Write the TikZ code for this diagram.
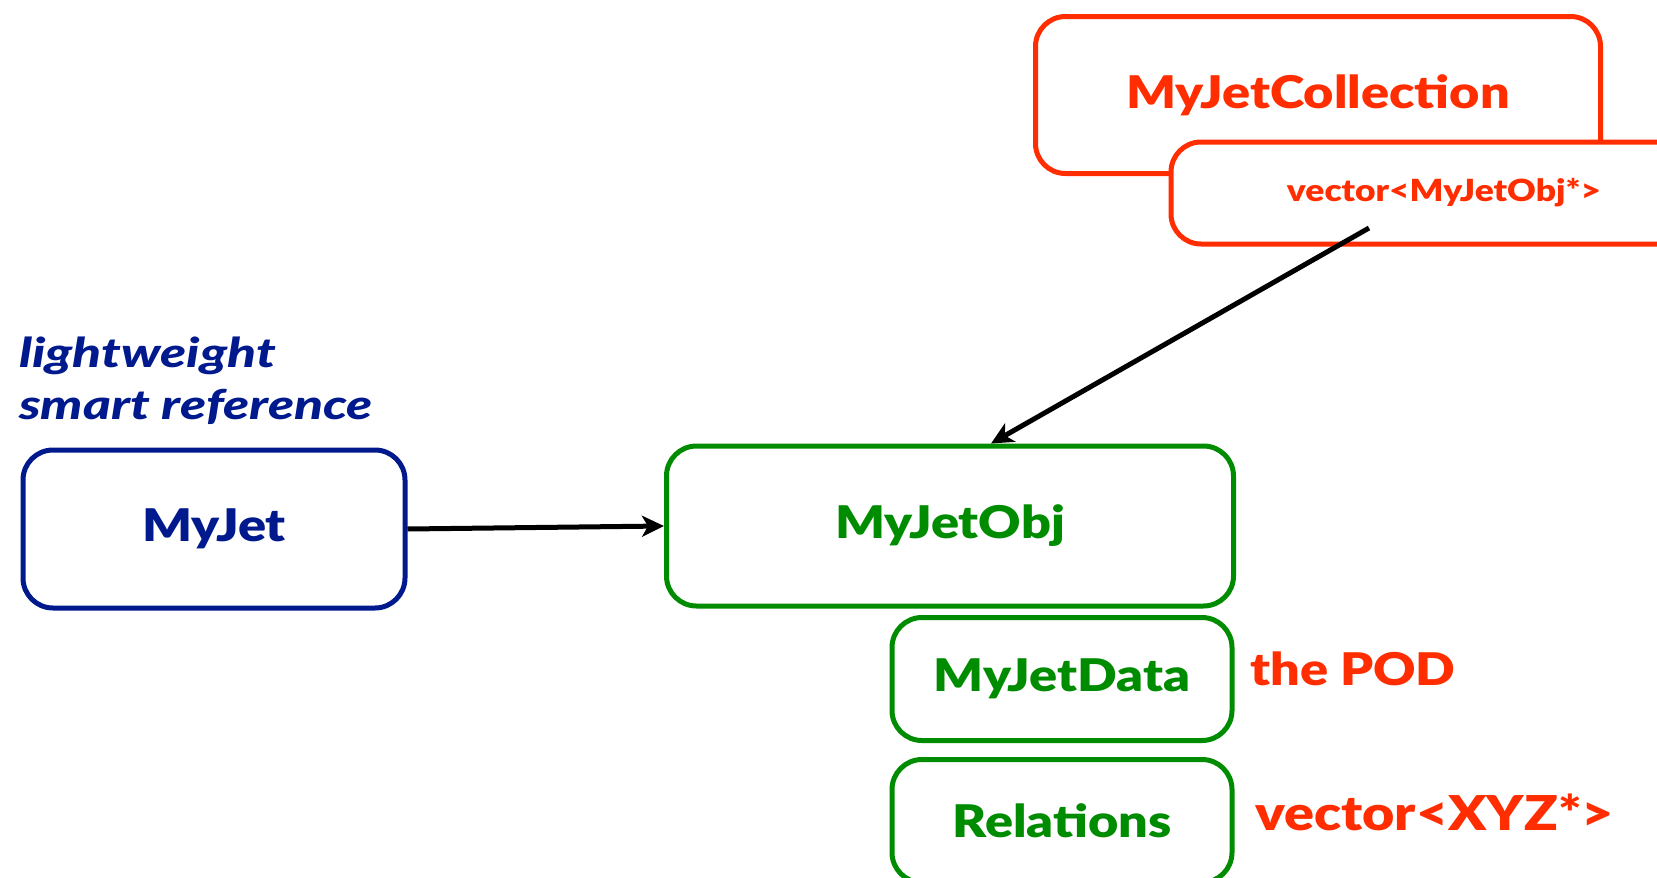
\documentclass[tikz,border=0pt]{standalone}
\usepackage{fontspec}
\setmainfont{Lato}
\newfontfamily\heavy{Lato Black}[FakeStretch=1.16]
\newfontfamily\heavyit{Lato Black Italic}[FakeStretch=1.30]
\usetikzlibrary{arrows.meta}
\definecolor{jred}{HTML}{FF2D00}
\definecolor{jblue}{HTML}{001A8E}
\definecolor{jgreen}{HTML}{008C00}
\begin{document}
\begin{tikzpicture}[x=1pt,y=-1pt,
  box/.style={draw, line width=5pt, rounded corners=30pt, fill=white,
    inner sep=0pt, font=\heavy},
  redbox/.style={box, draw=jred, text=jred},
  greenbox/.style={box, draw=jgreen, text=jgreen},
  bluebox/.style={box, draw=jblue, text=jblue},
  big/.style={font=\heavy\fontsize{45}{54}\selectfont},
  arr/.style={draw=black, line width=5pt, -{Stealth[length=22pt,width=21pt,inset=6pt]}}]
\useasboundingbox (0,0) rectangle (1657,878);
\clip (0,0) rectangle (1657,878);
\fill[white] (0,0) rectangle (1657,878);

% collection with its vector of objects
\node[redbox, minimum width=565pt, minimum height=157pt] (coll) at (1318,95)
  {\fontsize{45}{54}\selectfont MyJetCollection};
\node[redbox, minimum width=546pt, minimum height=102pt] (vec) at (1444,193)
  {\fontsize{30.5}{36}\selectfont vector<MyJetObj*>};

% smart reference
\node[anchor=south west, inner sep=0pt, text=jblue, align=left,
  font=\heavyit\fontsize{41}{52}\selectfont] (lw) at (19,425)
  {lightweight\\smart reference};
\node[bluebox, big, minimum width=382pt, minimum height=158pt] (jet) at (214,529) {MyJet};

% object and its parts
\node[greenbox, big, minimum width=567pt, minimum height=160pt] (obj) at (950,526) {MyJetObj};
\node[greenbox, big, minimum width=340pt, minimum height=123pt] (data) at (1062,679) {MyJetData};
\node[greenbox, big, minimum width=340pt, minimum height=123pt] (rel) at (1062,821) {Relations};

\node[anchor=west, inner sep=0pt, text=jred, big] (pod) at (1250,669) {the POD};
\node[anchor=west, inner sep=0pt, text=jred, font=\heavy\fontsize{48}{56}\selectfont] (xyz)
  at (1255,812) {vector<XYZ*>};

% connectors
\coordinate (vtail) at (1369,228);
\draw[arr] (jet.east) -- (obj.west);
\draw[arr] (vtail) -- ([xshift=41pt]obj.north);
\end{tikzpicture}
\end{document}
